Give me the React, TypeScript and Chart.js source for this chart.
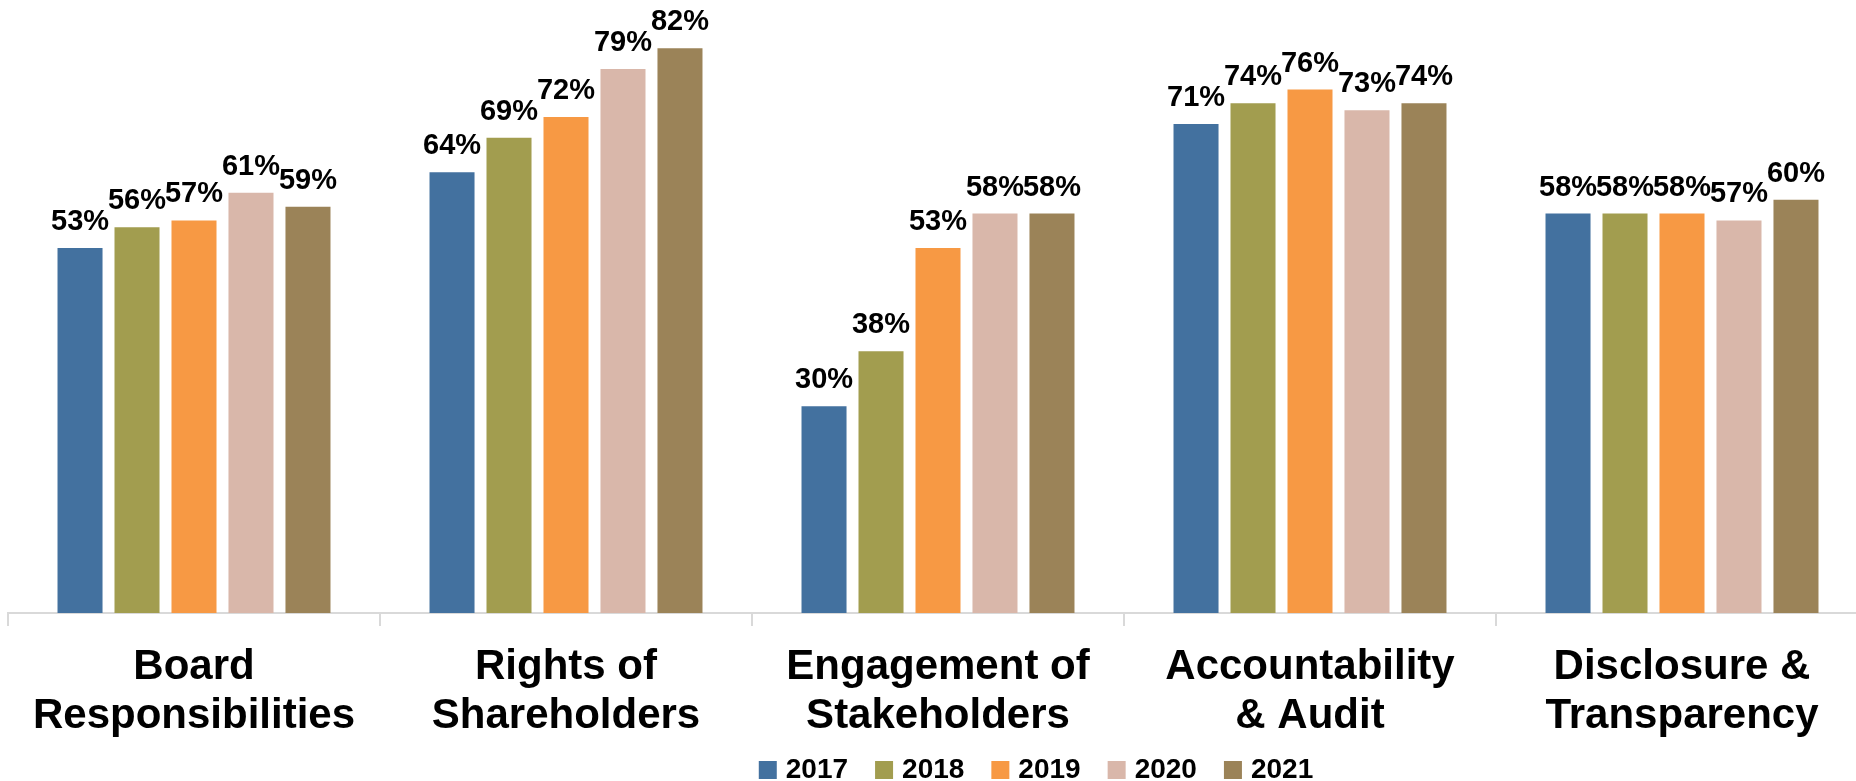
import React, { useEffect, useRef } from "react";
import { Chart, registerables } from "chart.js";

Chart.register(...registerables);

const categories: string[][] = [
  ["Board", "Responsibilities"],
  ["Rights of", "Shareholders"],
  ["Engagement of", "Stakeholders"],
  ["Accountability", "& Audit"],
  ["Disclosure &", "Transparency"],
];

const years = ["2017", "2018", "2019", "2020", "2021"];

const values2017 = [53, 64, 30, 71, 58];
const values2018 = [56, 69, 38, 74, 58];
const values2019 = [57, 72, 53, 76, 58];
const values2020 = [61, 79, 58, 73, 57];
const values2021 = [59, 82, 58, 74, 60];

const seriesValues = [values2017, values2018, values2019, values2020, values2021];
const colors = ["#43719F", "#A29D4F", "#F79944", "#D9B7AA", "#9B8358"];

const FONT = '"Liberation Sans", Arial, sans-serif';

const valueLabelPlugin = {
  id: "valueLabels",
  afterDatasetsDraw(chart: any) {
    const ctx = chart.ctx;
    ctx.save();
    ctx.font = `bold 29px ${FONT}`;
    ctx.fillStyle = "#000000";
    ctx.textAlign = "center";
    ctx.textBaseline = "alphabetic";
    chart.data.datasets.forEach((ds: any, di: number) => {
      const meta = chart.getDatasetMeta(di);
      meta.data.forEach((el: any, i: number) => {
        ctx.fillText(`${ds.data[i]}%`, el.x, el.y - 18);
      });
    });
    ctx.restore();
  },
};

const legendPlugin = {
  id: "customLegend",
  afterDraw(chart: any) {
    const ctx = chart.ctx;
    const box = 18;
    const gapText = 9;
    const gapItem = 27;
    const centerX = 1036;
    const baseline = 778;
    ctx.save();
    ctx.font = `bold 28px ${FONT}`;
    const items = chart.data.datasets.map((ds: any) => ({
      label: ds.label,
      color: ds.backgroundColor,
      w: ctx.measureText(ds.label).width,
    }));
    const total =
      items.reduce((s: number, it: any) => s + box + gapText + it.w, 0) +
      gapItem * (items.length - 1);
    let x = centerX - total / 2;
    items.forEach((it: any) => {
      ctx.fillStyle = it.color;
      ctx.fillRect(x, baseline - 17, box, box);
      ctx.fillStyle = "#000000";
      ctx.textAlign = "left";
      ctx.textBaseline = "alphabetic";
      ctx.fillText(it.label, x + box + gapText, baseline);
      x += box + gapText + it.w + gapItem;
    });
    ctx.restore();
  },
};

export default function App() {
  const ref = useRef<HTMLCanvasElement>(null);

  useEffect(() => {
    if (!ref.current) return;
    const chart = new Chart(ref.current, {
      type: "bar",
      data: {
        labels: categories,
        datasets: years.map((y, i) => ({
          label: y,
          data: seriesValues[i],
          backgroundColor: colors[i],
          borderWidth: 0,
          categoryPercentage: 0.766,
          barPercentage: 0.79,
        })),
      },
      options: {
        responsive: false,
        animation: false,
        layout: { padding: { left: 8, right: 2, top: 0, bottom: 0 } },
        plugins: {
          legend: { display: false },
          tooltip: { enabled: false },
        },
        scales: {
          x: {
            afterFit: (scale: any) => {
              scale.height = 168;
            },
            grid: {
              display: true,
              drawOnChartArea: false,
              drawTicks: true,
              tickLength: 13,
              color: "#d9d9d9",
              lineWidth: 2,
              offset: true,
            },
            border: { display: true, color: "#d9d9d9", width: 2 },
            ticks: {
              autoSkip: false,
              maxRotation: 0,
              minRotation: 0,
              padding: 17,
              color: "#000000",
              font: { family: FONT, size: 42, weight: "bold", lineHeight: 1.17 },
            },
          },
          y: {
            display: false,
            min: 0,
            max: 89,
          },
        },
      },
      plugins: [valueLabelPlugin, legendPlugin],
    } as any);
    return () => chart.destroy();
  }, []);

  return (
    <div
      style={{
        position: "absolute",
        left: 0,
        top: 0,
        width: 1856,
        height: 781,
        overflow: "hidden",
        background: "#ffffff",
      }}
    >
      <canvas ref={ref} width={1870} height={781} style={{ display: "block" }} />
    </div>
  );
}
